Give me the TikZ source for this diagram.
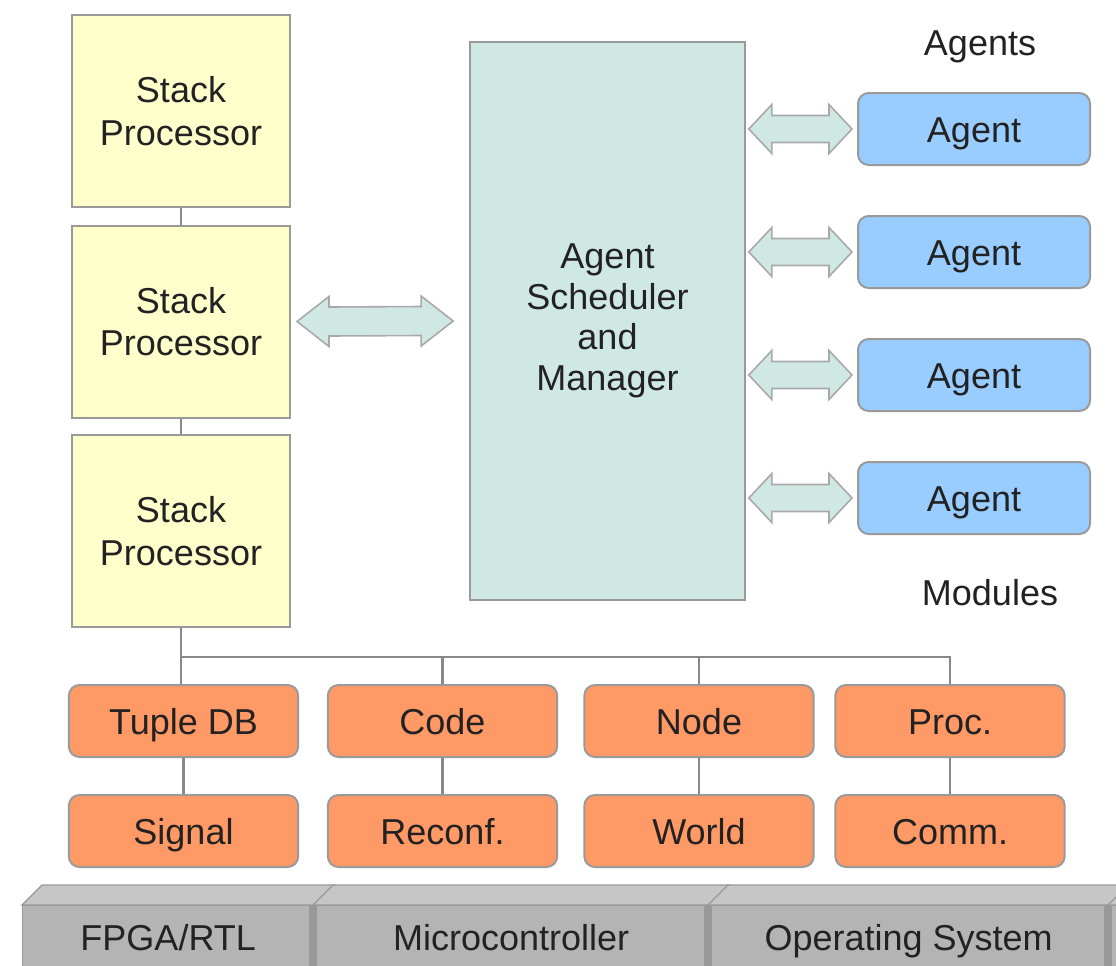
\documentclass[tikz,border=0pt]{standalone}
\usepackage{fontspec}
\setmainfont{Liberation Sans}
\usetikzlibrary{calc}

\definecolor{spyellow}{HTML}{FFFFCC}
\definecolor{schedteal}{HTML}{D0E8E4}
\definecolor{agentblue}{HTML}{99CCFF}
\definecolor{modorange}{HTML}{FF9966}
\definecolor{edgegray}{HTML}{9A9A9A}
\definecolor{wiregray}{HTML}{888888}
\definecolor{hwfront}{HTML}{B4B4B4}
\definecolor{hwtopc}{HTML}{C6C6C6}
\definecolor{hwside}{HTML}{999999}
\definecolor{txtdark}{HTML}{222222}

% wide double arrow: #1 left tip, #2 right tip, #3 half shaft, #4 half head, #5 head length
\newcommand{\widearrow}[5]{%
  \draw[fatarrow] (#1) -- ++(#5,-#4) -- ++(0,#4-#3) -- ($(#2)+(-#5,-#3)$) -- ++(0,#3-#4)
    -- (#2) -- ++(-#5,#4) -- ++(0,#3-#4) -- ($(#1)+(#5,#3)$) -- ++(0,#4-#3) -- cycle;}

\tikzset{
  box/.style={draw=edgegray, line width=1.5pt, inner sep=0pt, align=center, text=txtdark,
    font=\fontsize{27}{32}\selectfont},
  oneline/.style={text height=19.7pt, text depth=0pt},
  stackbox/.style={box, fill=spyellow, minimum width=163.5pt, minimum height=144pt},
  schedbox/.style={box, fill=schedteal, minimum width=206pt, minimum height=418pt,
    font=\fontsize{27}{30.5}\selectfont},
  agentbox/.style={box, oneline, fill=agentblue, rounded corners=8pt, minimum width=174pt, minimum height=54pt},
  modbox/.style={box, oneline, fill=modorange, rounded corners=8pt, minimum width=172pt, minimum height=54pt},
  hwbox/.style={draw=hwside, line width=1pt, fill=hwfront, inner sep=0pt, text=txtdark, oneline,
    font=\fontsize{27}{30}\selectfont, minimum height=48pt, anchor=north west},
  hwtop/.style={draw=hwside, line width=1pt, fill=hwtopc},
  wire/.style={draw=wiregray, line width=2.2pt},
  fatarrow/.style={draw=edgegray!85, line width=1.2pt, fill=schedteal, line join=miter},
  tag/.style={text=txtdark, oneline, font=\fontsize{27}{30}\selectfont},
}

\begin{document}
\begin{tikzpicture}[x=0.75pt, y=-0.75pt]
  \useasboundingbox (0,0) rectangle (1116,965);
  \clip (0,0) rectangle (1116,965);

  % stack processors
  \node[stackbox] (sp1) at (181,111) {Stack\\Processor};
  \node[stackbox] (sp2) at (181,321.5) {Stack\\Processor};
  \node[stackbox] (sp3) at (181,531) {Stack\\Processor};
  \draw[wire] (sp1) -- (sp2);
  \draw[wire] (sp2) -- (sp3);

  % scheduler
  \node[schedbox] (sched) at (607.5,321) {Agent\\Scheduler\\and\\Manager};
  \coordinate (bigL) at ($(sp2.east)+(6,0)$);
  \coordinate (bigR) at ($(sched.west)+(-16,0)$);
  \widearrow{bigL}{bigR}{14.5}{25}{32}

  % agents
  \node[tag] (agtag) at (980,42) {Agents};
  \node[agentbox] (ag1) at (974,129) {Agent};
  \node[agentbox] (ag2) at (974,252) {Agent};
  \node[agentbox] (ag3) at (974,375) {Agent};
  \node[agentbox] (ag4) at (974,498) {Agent};
  \node[tag] (modtag) at (990,592) {Modules};
  \foreach \i in {1,...,4} {
    \coordinate (aL\i) at ($(sched.east |- ag\i.west)+(3,0)$);
    \coordinate (aR\i) at ($(ag\i.west)+(-5,0)$);
    \widearrow{aL\i}{aR\i}{13.5}{24.5}{23}
  }

  % modules
  \node[modbox] (tdb) at (183.5,721) {Tuple DB};
  \node[modbox] (code) at (442.5,721) {Code};
  \node[modbox] (nd) at (699,721) {Node};
  \node[modbox] (proc) at (950,721) {Proc.};
  \node[modbox] (sig) at (183.5,831) {Signal};
  \node[modbox] (reconf) at (442.5,831) {Reconf.};
  \node[modbox] (world) at (699,831) {World};
  \node[modbox] (comm) at (950,831) {Comm.};

  \coordinate (bus) at (181,657);
  \draw[wire] (sp3.south) -- (sp3.south |- tdb.north);
  \draw[wire] (bus) -| (proc.north);
  \draw[wire] (code.north |- bus) -- (code.north);
  \draw[wire] (nd.north |- bus) -- (nd.north);
  \draw[wire] (tdb) -- (sig);
  \draw[wire] (code) -- (reconf);
  \draw[wire] (nd) -- (world);
  \draw[wire] (proc) -- (comm);

  % platforms
  \node[hwbox, minimum width=218.25pt] (hw1) at (22,905) {FPGA/RTL};
  \node[hwbox, minimum width=296.25pt] (hw2) at (313,905) {Microcontroller};
  \node[hwbox, minimum width=300pt] (hw3) at (708,905) {Operating System};
  \node[hwbox, minimum width=150pt] (hw4) at (1108,905) {};
  \draw[hwtop] (hw1.north west) -- ++(20,-20) -- ($(hw1.north east)+(20,-20)$) -- (hw1.north east) -- cycle;
  \draw[hwtop] (hw2.north west) -- ++(20,-20) -- ($(hw2.north east)+(20,-20)$) -- (hw2.north east) -- cycle;
  \draw[hwtop] (hw3.north west) -- ++(20,-20) -- ($(hw3.north east)+(20,-20)$) -- (hw3.north east) -- cycle;
  \draw[hwtop] (hw4.north west) -- ++(20,-20) -- ($(hw4.north east)+(20,-20)$) -- (hw4.north east) -- cycle;
  \fill[hwside] ($(hw2.north west)+(-4,0)$) rectangle ($(hw2.south west)+(4,0)$);
  \fill[hwside] ($(hw3.north west)+(-4,0)$) rectangle ($(hw3.south west)+(4,0)$);
  \fill[hwside] ($(hw4.north west)+(-4,0)$) rectangle ($(hw4.south west)+(4,0)$);
\end{tikzpicture}
\end{document}
